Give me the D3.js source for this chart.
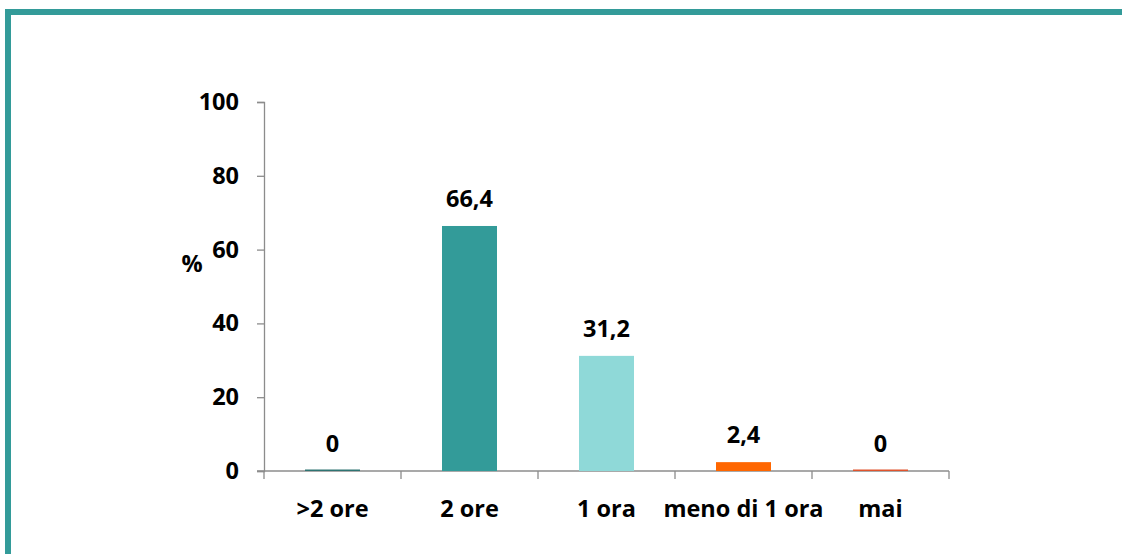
<!DOCTYPE html>
<html><head><meta charset="utf-8">
<script src="https://cdn.jsdelivr.net/npm/d3@7"></script>
<style>body{margin:0;background:#fff}svg{display:block}</style>
</head><body>
<script>
const categories = [">2 ore", "2 ore", "1 ora", "meno di 1 ora", "mai"];
const values = [0, 66.4, 31.2, 2.4, 0];
const valueLabels = ["0", "66,4", "31,2", "2,4", "0"];
const colors = ["#2e7472", "#339b99", "#8fd9d8", "#ff6600", "#e0532c"];
const yTicks = [0, 20, 40, 60, 80, 100];

const W = 1122, H = 554;
const svg = d3.select("body").append("svg").attr("width", W).attr("height", H);
const font = "'Open Sans', 'Liberation Sans', sans-serif";
const fs = 23.5;

// frame
svg.append("rect").attr("x", 5).attr("y", 9).attr("width", W - 5).attr("height", 6).attr("fill", "#339b99");
svg.append("rect").attr("x", 5).attr("y", 9).attr("width", 6).attr("height", H - 9).attr("fill", "#339b99");

const x = d3.scaleBand().domain(categories).range([264, 949]).paddingInner(0).paddingOuter(0);
const y = d3.scaleLinear().domain([0, 100]).range([471, 102]);
const barW = 55;

// y axis
const yAxis = svg.append("g").attr("transform", "translate(264,0)")
  .call(d3.axisLeft(y).tickValues(yTicks).tickSize(7).tickPadding(18).tickFormat(d3.format("d")));
yAxis.select(".domain").attr("stroke", "#8c8c8c").attr("stroke-width", 1.3);
yAxis.selectAll(".tick line").attr("stroke", "#8c8c8c").attr("stroke-width", 1.3);
yAxis.selectAll("text").attr("font-family", font).attr("font-size", fs).attr("font-weight", "bold").attr("fill", "#000");

// x axis
const xAxisG = svg.append("g").attr("transform", "translate(0,471)");
xAxisG.append("line").attr("x1", 257).attr("x2", 949).attr("stroke", "#8c8c8c").attr("stroke-width", 1.3);
const bounds = categories.map(c => x(c)).concat([x(categories[categories.length - 1]) + x.bandwidth()]);
xAxisG.selectAll("line.t").data(bounds).enter().append("line")
  .attr("x1", d => d).attr("x2", d => d).attr("y1", 0).attr("y2", 8)
  .attr("stroke", "#8c8c8c").attr("stroke-width", 1.3);
xAxisG.selectAll("text").data(categories).enter().append("text")
  .attr("x", d => x(d) + x.bandwidth() / 2).attr("y", 46)
  .attr("text-anchor", "middle").attr("font-family", font).attr("font-size", fs).attr("font-weight", "bold")
  .text(d => d);

// bars
const data = categories.map((c, i) => ({c, v: values[i], l: valueLabels[i], col: colors[i]}));
svg.selectAll("rect.bar").data(data).enter().append("rect")
  .attr("class", "bar")
  .attr("x", d => x(d.c) + x.bandwidth() / 2 - barW / 2)
  .attr("width", barW)
  .attr("y", d => d.v === 0 ? y(0) - 1.5 : y(d.v))
  .attr("height", d => d.v === 0 ? 1.5 : y(0) - y(d.v))
  .attr("fill", d => d.col);

svg.selectAll("text.val").data(data).enter().append("text")
  .attr("x", d => x(d.c) + x.bandwidth() / 2)
  .attr("y", d => y(d.v) - 19)
  .attr("text-anchor", "middle").attr("font-family", font).attr("font-size", fs).attr("font-weight", "bold")
  .text(d => d.l);

svg.append("text").attr("x", 192).attr("y", 272).attr("text-anchor", "middle")
  .attr("font-family", font).attr("font-size", fs).attr("font-weight", "bold").text("%");
</script>
</body></html>
